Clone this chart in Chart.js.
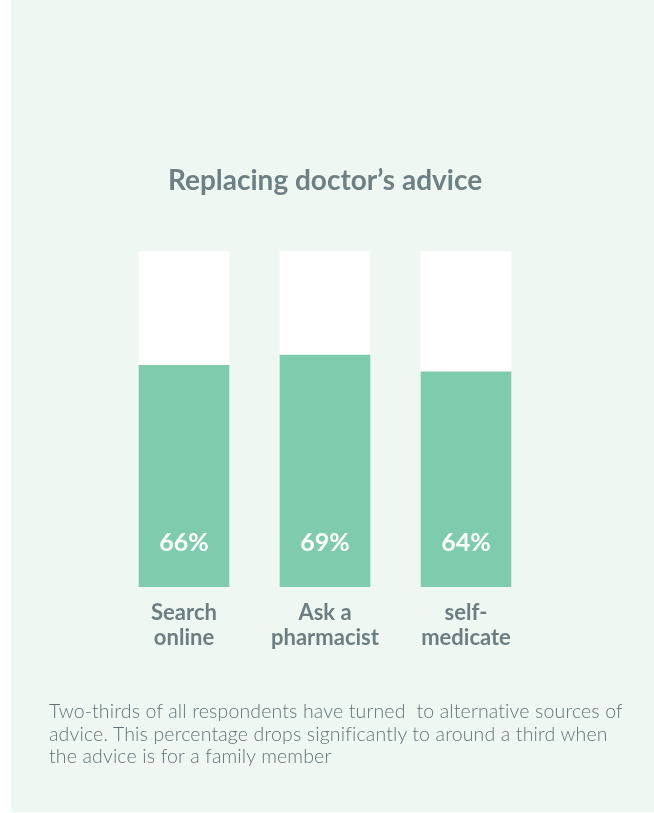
<!DOCTYPE html>
<html>
<head>
<meta charset="utf-8">
<script src="https://cdn.jsdelivr.net/npm/chart.js@4.4.1/dist/chart.umd.min.js"></script>
<style>
  html, body { margin: 0; padding: 0; background: #ffffff; }
  #panel {
    position: absolute; left: 11px; top: 0; width: 643px; height: 812px;
    background: #eef7f2;
  }
  #wrap { position: absolute; left: 0; top: 0; width: 654px; height: 813px; }
  #note {
    position: absolute; left: 49px; top: 700px; width: 600px;
    font-family: Lato, sans-serif; font-weight: 300; font-size: 19.5px;
    letter-spacing: 0.15px;
    line-height: 22.5px; color: #617378; margin: 0; white-space: nowrap;
  }
</style>
</head>
<body>
<div id="panel"></div>
<div id="wrap"><canvas id="chart"></canvas></div>
<p id="note">Two-thirds of all respondents have turned&nbsp; to alternative sources of<br>advice. This percentage drops significantly to around a third when<br>the advice is for a family member</p>
<script>
var chartTitle = "Replacing doctor\u2019s advice";
var categories = [["Search", "online"], ["Ask a", "pharmacist"], ["self-", "medicate"]];
var shares = [66, 69, 64];
var fullScale = [100, 100, 100];

var pctLabels = {
    id: 'pctLabels',
    afterDatasetsDraw: function(chart){
        var ctx = chart.ctx;
        var meta = chart.getDatasetMeta(1);
        ctx.save();
        ctx.fillStyle = '#ffffff';
        ctx.font = 'bold 25px Lato, sans-serif';
        ctx.textAlign = 'center';
        ctx.textBaseline = 'middle';
        meta.data.forEach(function(bar, i){
            ctx.fillText(shares[i] + '%', bar.x, bar.base - 44);
        });
        ctx.restore();
    }
};

new Chart(document.getElementById('chart'), {
    type: 'bar',
    data: {
        labels: categories,
        datasets: [
            {
                label: 'total',
                data: fullScale,
                backgroundColor: '#ffffff',
                order: 2,
                grouped: false,
                barThickness: 90
            },
            {
                label: 'share',
                data: shares,
                backgroundColor: '#7ecbad',
                order: 1,
                grouped: false,
                barThickness: 90
            }
        ]
    },
    options: {
        responsive: true,
        maintainAspectRatio: false,
        animation: false,
        layout: { padding: { left: 113.5, right: 117.5, top: 164.2, bottom: 157.5 } },
        plugins: {
            legend: { display: false },
            tooltip: { enabled: false },
            title: {
                display: true,
                text: chartTitle,
                color: '#6e8084',
                font: { family: 'Lato, sans-serif', size: 28, weight: 'bold' },
                padding: { top: 0, bottom: 53.2 }
            }
        },
        scales: {
            x: {
                grid: { display: false },
                border: { display: false },
                ticks: {
                    color: '#6d7e82',
                    padding: 5,
                    font: { family: 'Lato, sans-serif', size: 22, weight: 'bold', lineHeight: 1.15 }
                }
            },
            y: {
                display: false,
                min: 0,
                max: 100
            }
        }
    },
    plugins: [pctLabels]
});
</script>
</body>
</html>
